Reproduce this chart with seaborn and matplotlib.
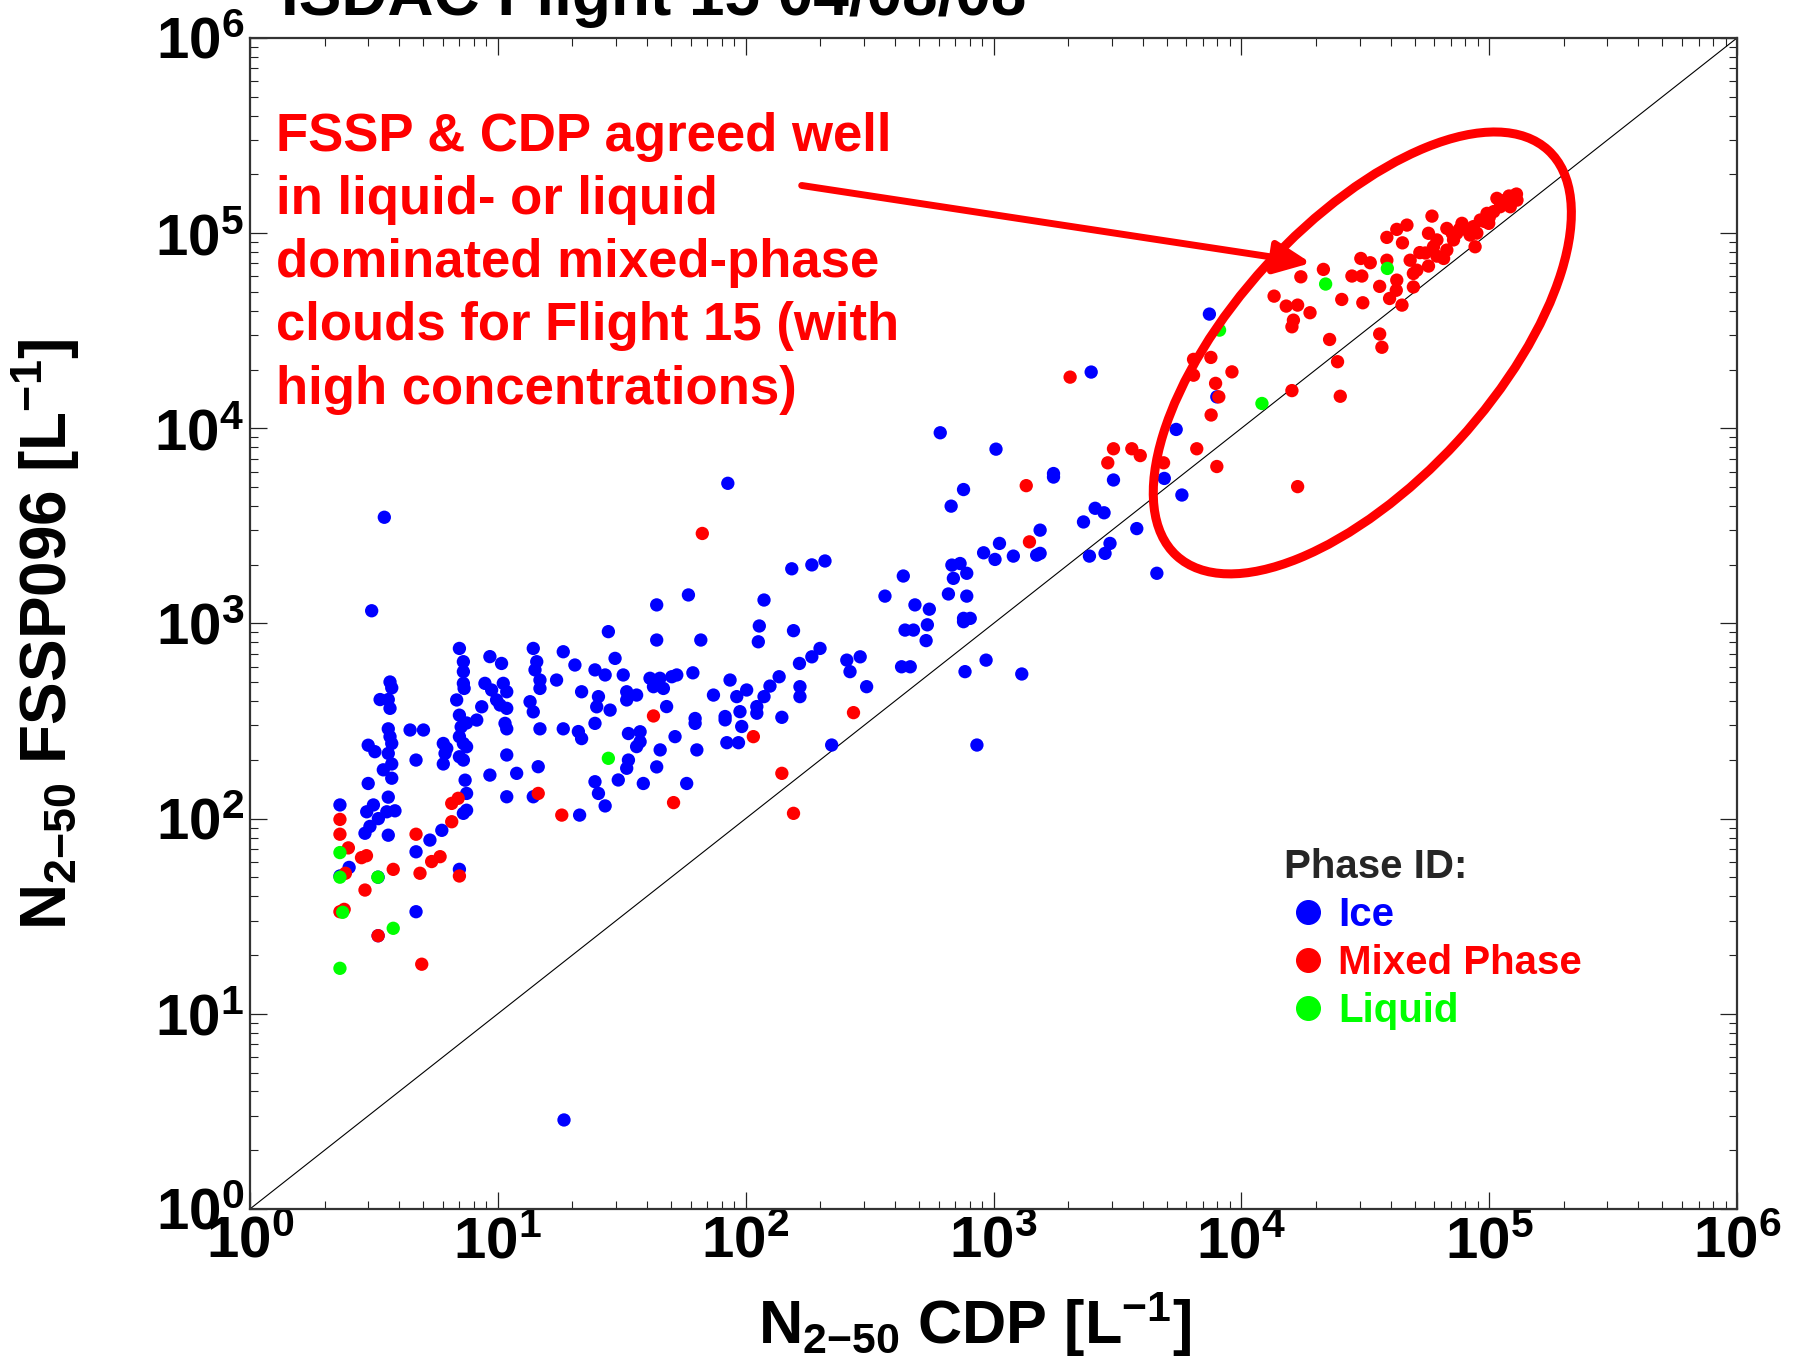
import numpy as np
import pandas as pd
import seaborn as sns
import matplotlib
matplotlib.use("Agg")
import matplotlib.pyplot as plt
import matplotlib.transforms as mtransforms
from matplotlib.patches import Ellipse
from matplotlib.lines import Line2D
from matplotlib.ticker import FixedLocator, LogFormatterSciNotation, NullFormatter
from matplotlib import font_manager as fm

# ---------------- data (log10 of concentration, L^-1) ----------------
ice_log_cdp = [0.363, 0.40, 0.363, 0.517, 0.517, 0.464, 0.484, 0.518, 0.552, 0.585, 0.471, 0.498, 0.558, 0.477, 0.558,
               0.565, 0.572, 0.525, 0.558, 0.565, 0.558, 0.565, 0.572, 0.477, 0.504, 0.558, 0.572, 0.538, 0.572, 0.491,
               0.646, 0.70, 0.67, 0.67, 0.67, 0.78, 0.787, 0.78, 0.794, 0.726, 0.774, 0.845,
               0.845, 0.861, 0.861, 0.861, 0.864, 0.834, 0.845, 0.852, 0.874, 0.845, 0.861, 0.874, 0.845, 0.861, 0.868,
               0.874, 0.874, 0.861, 0.915, 0.935, 0.948, 0.975, 0.995, 1.009, 1.036, 1.022, 1.036, 0.968, 1.015, 1.029,
               1.036, 1.036, 0.968, 1.076, 1.036, 1.163, 1.143, 1.17, 1.33,
               1.143, 1.157, 1.15, 1.17, 1.17, 1.13, 1.143, 1.264, 1.311, 1.237, 1.338, 1.264, 1.325, 1.338, 1.392,
               1.406, 1.399, 1.392, 1.392, 1.406,
               2.186, 2.267, 2.32, 2.636, 2.562, 2.683, 2.643, 2.677, 2.629, 2.664, 1.769, 1.641, 2.074, 2.055, 2.051,
               2.193, 1.446, 1.641, 1.819, 1.473, 2.30, 2.267, 2.217, 2.408, 2.462, 2.421, 2.488, 2.347, 2.146, 2.219,
               2.219, 2.135, 2.098, 2.074, 2.045, 2.045, 2.004, 1.964, 1.977, 1.984, 1.937, 1.917, 1.917, 1.870, 1.924,
               1.971, 1.787, 1.614, 1.654, 1.702, 1.722, 1.628, 1.668, 1.52, 1.56, 1.52, 1.681, 1.796, 1.796, 1.715,
               1.574, 1.574, 1.56, 1.527, 1.655, 1.803, 1.641, 1.762, 1.587, 1.527, 1.52, 1.486, 1.433, 1.453, 1.506,
               1.433, 0.542, 1.928,
               2.785, 3.01, 2.879, 2.829, 3.242, 3.242, 3.484, 3.689, 3.737, 3.76, 3.901, 3.41, 3.446, 3.363, 3.188,
               3.188, 3.174, 3.08, 3.006, 2.96, 3.024, 3.387, 3.45, 3.47, 3.578, 3.659, 2.832, 2.865, 2.838, 2.892,
               2.818, 2.892, 2.741, 2.733, 2.728, 2.879, 2.906, 2.879, 2.885, 2.97, 3.114, 2.933,
               3.871, 3.394, 1.267]
ice_log_fssp = [2.07, 1.75, 1.706, 1.70, 1.40, 1.925, 1.96, 2.00, 2.035, 2.04, 2.035, 2.07, 2.11, 2.18, 1.915,
                2.70, 2.67, 2.61, 2.61, 2.565, 2.46, 2.42, 2.385, 2.376, 2.343, 2.334, 2.28, 2.25, 2.207, 3.065,
                2.454, 2.454, 2.30, 1.83, 1.523, 2.385, 2.334, 2.28, 2.36, 1.89, 1.94, 1.74,
                2.872, 2.804, 2.753, 2.693, 2.667, 2.608, 2.53, 2.47, 2.49, 2.42, 2.385, 2.368, 2.317, 2.30, 2.197,
                2.129, 2.043, 2.027, 2.505, 2.573, 2.693, 2.659, 2.608, 2.582, 2.565, 2.693, 2.65, 2.83, 2.795, 2.488,
                2.46, 2.326, 2.223, 2.232, 2.112, 2.266, 2.112, 2.46, 2.018,
                2.872, 2.804, 2.762, 2.71, 2.667, 2.599, 2.547, 2.855, 2.787, 2.71, 2.65, 2.46, 2.446, 2.41, 2.762,
                2.625, 2.573, 2.488, 2.189, 2.129,
                3.28, 3.30, 3.32, 3.243, 3.14, 3.095, 2.966, 2.966, 2.778, 2.778, 3.146, 3.095, 3.12, 2.987, 2.906,
                2.963, 2.958, 2.915, 2.915, 2.821, 2.872, 2.829, 2.795, 2.812, 2.829, 2.753, 2.676, 2.377, 2.519, 2.676,
                2.625, 2.727, 2.679, 2.625, 2.574, 2.54, 2.659, 2.625, 2.548, 2.472, 2.71, 2.523, 2.506, 2.633, 2.389,
                2.389, 2.747, 2.719, 2.719, 2.727, 2.736, 2.676, 2.667, 2.65, 2.633, 2.608, 2.574, 2.513, 2.488, 2.42,
                2.445, 2.394, 2.369, 2.436, 2.352, 2.352, 2.265, 2.18, 2.18, 2.30, 2.258, 2.198, 2.065, 2.556, 2.736,
                2.736, 3.544, 3.718,
                3.977, 3.893, 3.686, 3.601, 3.768, 3.75, 3.735, 3.743, 3.994, 3.658, 4.161, 3.59, 3.567, 3.52, 3.478,
                3.359, 3.35, 3.345, 3.328, 3.362, 3.41, 3.345, 3.359, 3.41, 3.486, 3.257, 3.299, 3.307, 3.231, 3.257,
                3.151, 3.14, 3.073, 2.993, 2.912, 3.026, 3.026, 3.009, 2.753, 2.812, 2.741, 2.377,
                4.585, 4.288, 0.456]

mixed_log_cdp = [0.363, 0.363, 0.397, 0.385, 0.363, 0.38, 0.45, 0.47, 0.464, 0.517, 0.578, 0.67, 0.686, 0.693,
                 0.733, 0.767, 0.814, 0.814, 0.84, 0.845, 1.163, 1.258,
                 2.435, 2.146, 2.193, 2.031, 1.628, 1.709, 1.825,
                 3.132, 3.484, 3.558, 3.592, 3.461, 3.686, 3.82, 3.901, 3.878, 3.896, 3.909, 3.145, 3.309,
                 3.807, 3.877, 3.807, 3.962, 4.204, 4.227, 4.399, 4.388, 4.356, 4.558, 4.567,
                 4.132, 4.181, 4.227, 4.277, 4.21, 4.204, 4.24, 4.331, 4.405, 4.49, 4.446, 4.486, 4.482, 4.52, 4.587,
                 4.558, 4.598, 4.627, 4.625, 4.648, 4.694, 4.681, 4.708, 4.742, 4.755, 4.694,
                 4.587, 4.627, 4.668, 4.769, 4.755, 4.789, 4.829, 4.856, 4.89, 4.91, 4.936, 4.943, 4.964, 4.991, 5.018,
                 5.044, 5.065, 5.105, 5.112, 5.031, 5.085, 4.998, 4.923, 4.829, 4.869, 4.789, 4.816, 4.775,
                 4.95, 4.98, 5.05, 5.0, 4.88, 4.85, 4.72, 4.65, 5.08, 5.11]
mixed_log_fssp = [1.996, 1.92, 1.85, 1.72, 1.523, 1.535, 1.80, 1.81, 1.634, 1.40, 1.74, 1.92, 1.72, 1.254,
                  1.78, 1.805, 1.984, 2.078, 2.104, 1.706, 2.129, 2.018,
                  2.543, 2.232, 2.027, 2.42, 2.526, 2.082, 3.461,
                  3.706, 3.895, 3.895, 3.86, 3.823, 3.823, 3.895, 3.804, 4.068, 4.23, 4.161, 3.418, 4.262,
                  4.353, 4.363, 4.272, 4.289, 4.193, 3.701, 4.164, 4.341, 4.455, 4.483, 4.415,
                  4.677, 4.626, 4.631, 4.592, 4.554, 4.52, 4.776, 4.814, 4.66, 4.643, 4.78, 4.78, 4.87, 4.848, 4.861,
                  4.727, 4.665, 4.759, 4.707, 4.631, 4.724, 4.861, 4.81, 4.898, 4.831, 4.793,
                  4.978, 5.019, 5.041, 5.087, 4.999, 4.965, 5.024, 4.965, 5.05, 5.016, 5.033, 4.93, 5.067, 5.101, 5.11,
                  5.135, 5.169, 5.195, 5.169, 5.178, 5.135, 5.05, 4.99, 4.913, 4.999, 4.882, 4.87, 4.93,
                  5.0, 5.06, 5.15, 5.08, 5.02, 5.0, 4.9, 4.95, 5.19, 5.2]

liquid_log_cdp = [0.363, 0.363, 0.374, 0.363, 0.516, 0.578, 1.446, 3.912, 4.083, 4.34, 4.589]
liquid_log_fssp = [1.826, 1.70, 1.52, 1.233, 1.70, 1.438, 2.309, 4.503, 4.127, 4.739, 4.819]

phases = ["Ice", "Mixed Phase", "Liquid"]
palette = {"Ice": "#0000FF", "Mixed Phase": "#FF0000", "Liquid": "#00FF00"}
axis_limits = [1e0, 1e6]
one_to_one = [1e0, 1e6]
decade_ticks = [1e0, 1e1, 1e2, 1e3, 1e4, 1e5, 1e6]

df = pd.concat([
    pd.DataFrame({"cdp": 10 ** np.array(ice_log_cdp), "fssp": 10 ** np.array(ice_log_fssp), "phase": "Ice"}),
    pd.DataFrame({"cdp": 10 ** np.array(mixed_log_cdp), "fssp": 10 ** np.array(mixed_log_fssp), "phase": "Mixed Phase"}),
    pd.DataFrame({"cdp": 10 ** np.array(liquid_log_cdp), "fssp": 10 ** np.array(liquid_log_fssp), "phase": "Liquid"}),
], ignore_index=True)

# ---------------- fonts ----------------
def has_font(name):
    try:
        fm.findfont(fm.FontProperties(family=name), fallback_to_default=False)
        return True
    except Exception:
        return False

BASE = "Liberation Sans" if has_font("Liberation Sans") else "DejaVu Sans"
NARROW = "Liberation Sans Narrow" if has_font("Liberation Sans Narrow") else BASE
narrow_ok = NARROW != BASE

sns.set_theme(style="ticks")
plt.rcParams["font.family"] = [BASE, "DejaVu Sans"]
plt.rcParams["mathtext.fontset"] = "custom"
plt.rcParams["mathtext.rm"] = f"{NARROW}:bold"
plt.rcParams["mathtext.bf"] = f"{NARROW}:bold"
plt.rcParams["mathtext.it"] = f"{NARROW}:bold"

fig = plt.figure(figsize=(18.01, 13.69), dpi=100)
ax = fig.add_axes([0.1388, 0.1169, 0.8257, 0.8554])

sns.scatterplot(data=df, x="cdp", y="fssp", hue="phase", palette=palette, hue_order=phases,
                s=92, linewidth=0, legend=False, ax=ax, zorder=3)
ax.plot(one_to_one, one_to_one, color="black", lw=0.8, zorder=2)

ax.set_xscale("log")
ax.set_yscale("log")
ax.set_xlim(axis_limits)
ax.set_ylim(axis_limits)

minor_ticks = [m * d for d in decade_ticks[:-1] for m in range(2, 10)]
for a in (ax.xaxis, ax.yaxis):
    a.set_major_locator(FixedLocator(decade_ticks))
    a.set_major_formatter(LogFormatterSciNotation())
    a.set_minor_locator(FixedLocator(minor_ticks))
    a.set_minor_formatter(NullFormatter())

ax.tick_params(which="major", direction="in", length=12, width=0.9, top=True, right=True, color="#222222")
ax.tick_params(which="minor", direction="in", length=6, width=0.8, top=True, right=True, color="#222222")
ax.tick_params(axis="y", which="major", pad=4)
ax.tick_params(axis="x", which="major", pad=5)
for sp in ax.spines.values():
    sp.set_linewidth(1.6)
    sp.set_color("#333333")

xfs = 46 if narrow_ok else 42
for lab in ax.get_xticklabels():
    lab.set_fontfamily(NARROW)
    lab.set_fontweight("bold")
    lab.set_fontsize(xfs)
    lab.set_color("black")
for lab in ax.get_yticklabels():
    lab.set_fontfamily(BASE)
    lab.set_fontweight("bold")
    lab.set_fontsize(42)
    lab.set_color("black")

lfs = 54 if narrow_ok else 45
ax.set_xlabel(r"N$_{\mathdefault{2{-}50}}$ CDP [L$^{\mathdefault{{-}1}}$]", fontsize=lfs - 1, fontweight="bold",
              family=NARROW, color="black")
ax.set_ylabel(r"N$_{\mathdefault{2{-}50}}$ FSSP096 [L$^{\mathdefault{{-}1}}$]", fontsize=lfs + 1, fontweight="bold",
              family=NARROW, color="black")
ax.xaxis.set_label_coords(0.487, -0.069)
ax.yaxis.set_label_coords(-0.113, 0.491)

# clipped title at the very top
fig.text(0.363, 0.989, "ISDAC Flight 15 04/08/08", ha="center", va="baseline",
         fontsize=46, fontweight="bold", family=BASE, color="black")

# annotation
ax.text(0.0175, 0.937,
        "FSSP & CDP agreed well\nin liquid- or liquid\ndominated mixed-phase\nclouds for Flight 15 (with\nhigh concentrations)",
        transform=ax.transAxes, ha="left", va="top", color="#FF0000", fontsize=38, fontweight="bold",
        family=BASE, linespacing=1.34, zorder=5)
ax.annotate("", xy=(0.7135, 0.8078), xytext=(0.371, 0.874), xycoords="axes fraction",
            arrowprops=dict(arrowstyle="-|>,head_length=1.1,head_width=0.5", mutation_scale=20,
                            color="#FF0000", lw=5, shrinkA=0, shrinkB=0), zorder=5)
trans = fig.dpi_scale_trans + mtransforms.ScaledTranslation(0.748, 0.731, ax.transAxes)
ax.add_patch(Ellipse((0, 0), width=5.5, height=2.6, angle=47.5, transform=trans, fill=False,
                     ec="#FF0000", lw=6.5, clip_on=False, zorder=4))

# legend
handles = [Line2D([], [], marker="o", ls="none", color=palette[p], markersize=17) for p in phases]
leg = ax.legend(handles, phases, title="Phase ID:", loc="upper left", bbox_to_anchor=(0.695, 0.308),
                frameon=False, prop=fm.FontProperties(family=BASE, weight="bold", size=29),
                title_fontproperties=fm.FontProperties(family=BASE, weight="bold", size=29),
                alignment="left", handletextpad=0.15, labelspacing=0.25, handlelength=1.2,
                borderaxespad=0, borderpad=0)
for t, p in zip(leg.get_texts(), phases):
    t.set_color(palette[p])

fig.savefig("out.png", dpi=100)
